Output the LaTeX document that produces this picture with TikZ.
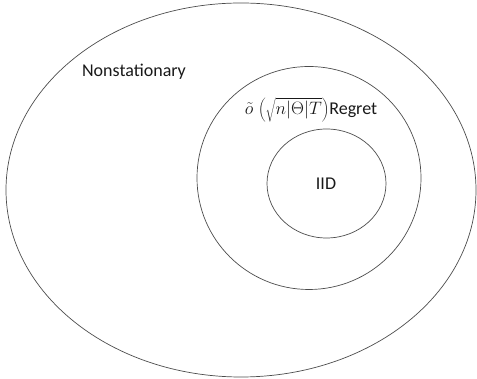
\documentclass[tikz,border=0pt]{standalone}
\usepackage{fix-cm}
\usepackage{fontspec}
\setmainfont{Carlito}
\usetikzlibrary{shapes.geometric}

\tikzset{
  set/.style={draw=black!70,line width=0.7pt,ellipse,inner sep=0pt},
  lbl/.style={font=\fontsize{18}{22}\selectfont,text=black!90,inner sep=0pt}
}

\begin{document}
\begin{tikzpicture}[x=1pt,y=1pt]
  \useasboundingbox (0,0) rectangle (477,379);

  % the three sets
  \node[set,minimum width=470,minimum height=374] (outer) at (241,189) {};
  \node[set,minimum width=224,minimum height=223] (mid) at (309,201) {};
  \node[set,minimum width=119,minimum height=109] (inner) at (326.5,195.5) {};

  % labels
  \node[lbl] (nonstat) at (134,307) {Nonstationary};
  \node[lbl] (regret) at (311,269) {$\tilde{o}\;\biggl(\sqrt{n|\Theta|T}\biggr)$Regret};
  \node[lbl] (iid) at (326,195) {IID};

\end{tikzpicture}
\end{document}
